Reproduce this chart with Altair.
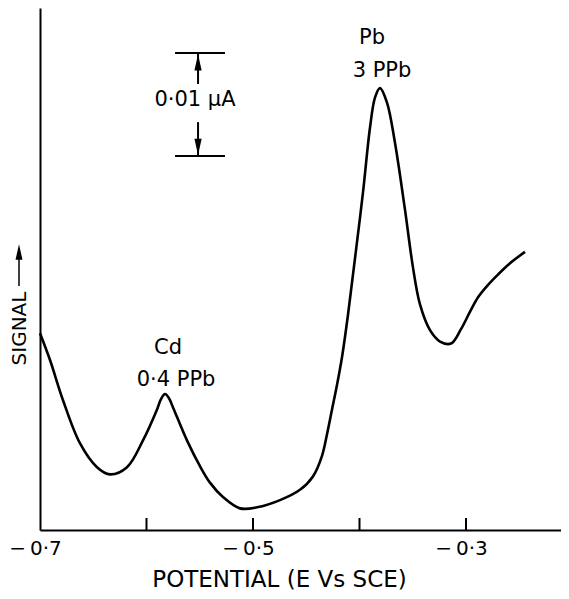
import altair as alt
import pandas as pd

# Stripping voltammogram (potential in V vs SCE, signal in nA)
potential = [-0.7000, -0.6906, -0.6784, -0.6624, -0.6465, -0.6343, -0.6183, -0.6033,
             -0.5901, -0.5864, -0.5826, -0.5789, -0.5751, -0.5620, -0.5498, -0.5404,
             -0.5282, -0.5122,
             -0.4962, -0.4746, -0.4559, -0.4437, -0.4352, -0.4305, -0.4258, -0.4211,
             -0.4164, -0.4108, -0.4042, -0.3967, -0.3901, -0.3854, -0.3808, -0.3742,
             -0.3667, -0.3573, -0.3498, -0.3432, -0.3338, -0.3244, -0.3141, -0.3047,
             -0.2962, -0.2887, -0.2793, -0.2700, -0.2587, -0.2446]
signal = [19.1, 16.5, 12.6, 8.4, 6.1, 5.4, 6.1, 8.7,
          11.7, 12.7, 13.2, 12.8, 11.9, 8.7, 6.2, 4.6,
          3.2, 2.1,
          2.2, 2.9, 3.9, 5.2, 7.2, 9.3, 11.7, 14.1,
          16.8, 20.9, 26.4, 32.8, 39.1, 42.0, 42.9, 41.5,
          37.6, 31.1, 25.5, 21.9, 19.4, 18.3, 18.1, 19.5,
          21.2, 22.6, 23.8, 24.8, 25.9, 27.0]

x_domain = [-0.7, -0.2108]
y_domain = [0, 50.68]

tick_values = [-0.6, -0.5, -0.4, -0.3]
label_values = [-0.7, -0.5, -0.3]
label_texts = ["−\u20090·7", "−\u20090·5", "−\u20090·3"]

ann_text = ["Cd", "0·4 PPb", "Pb", "3 PPb", "0·01 μA"]
ann_x = [-0.5798, -0.5723, -0.3883, -0.3789, -0.5545]
ann_y = [17.67, 14.56, 47.77, 44.56, 41.75]

# scale bar: 0.01 uA = 10 nA
bar_x1, bar_x2 = -0.5732, -0.5263
bar_y = [46.31, 36.31]
shaft_x = -0.5516
shaft_y1 = [46.31, 39.6]
shaft_y2 = [43.3, 36.31]
head_y = [45.4, 37.2]
UP = "M0,-1L0.45,1L-0.45,1Z"
DOWN = "M0,1L0.45,-1L-0.45,-1Z"
head_shape = [UP, DOWN]

FONT = "DejaVu Sans"

curve_df = pd.DataFrame({"E": potential, "S": signal})
tick_df = pd.DataFrame({"E": tick_values})
ann_df = pd.DataFrame({"t": ann_text, "E": ann_x, "S": ann_y})
bar_df = pd.DataFrame({"E": [bar_x1] * 2, "E2": [bar_x2] * 2, "S": bar_y})
shaft_df = pd.DataFrame({"E": [shaft_x] * 2, "S": shaft_y1, "S2": shaft_y2})
head_df = pd.DataFrame({"E": [shaft_x] * 2, "S": head_y, "shape": head_shape})
one_df = pd.DataFrame({"shape": [UP]})

label_expr = " : ".join(
    f"datum.value > {v - 0.005} && datum.value < {v + 0.005} ? '{t}'"
    for v, t in zip(label_values, label_texts)
) + " : ''"

xscale = alt.Scale(domain=x_domain, nice=False, zero=False)
yscale = alt.Scale(domain=y_domain, nice=False, zero=False)

x_axis = alt.Axis(
    values=label_values, labelExpr=label_expr, ticks=False, grid=False,
    domainColor="black", domainWidth=2, labelFont=FONT, labelFontSize=20,
    labelColor="black", labelPadding=8, labelOffset=-5, labelFlush=False,
    labelOverlap=False,
    title="POTENTIAL (E Vs SCE)", titleFont=FONT, titleFontSize=23,
    titleFontWeight="normal", titleColor="black", titlePadding=10, titleX=239,
)
y_axis = alt.Axis(
    labels=False, ticks=False, grid=False, domainColor="black", domainWidth=2,
    title="SIGNAL", titleFont=FONT, titleFontSize=20, titleFontWeight="normal",
    titleColor="black", titleAngle=270, titleX=-21, titleY=320, titleAlign="center",
    titleBaseline="middle",
)

curve = alt.Chart(curve_df).mark_line(
    color="black", strokeWidth=2.6, interpolate="catmull-rom"
).encode(
    x=alt.X("E:Q", scale=xscale, axis=x_axis),
    y=alt.Y("S:Q", scale=yscale, axis=y_axis),
)

ticks = alt.Chart(tick_df).mark_rule(color="black", strokeWidth=2).encode(
    x=alt.X("E:Q", scale=xscale),
    y=alt.value(522), y2=alt.value(510),
)

texts = alt.Chart(ann_df).mark_text(
    font=FONT, fontSize=21, color="black", align="center", baseline="middle"
).encode(
    x=alt.X("E:Q", scale=xscale), y=alt.Y("S:Q", scale=yscale), text="t:N",
)

bars = alt.Chart(bar_df).mark_rule(color="black", strokeWidth=2).encode(
    x=alt.X("E:Q", scale=xscale), x2="E2:Q", y=alt.Y("S:Q", scale=yscale),
)

shafts = alt.Chart(shaft_df).mark_rule(color="black", strokeWidth=2).encode(
    x=alt.X("E:Q", scale=xscale), y=alt.Y("S:Q", scale=yscale), y2="S2:Q",
)

heads = alt.Chart(head_df).mark_point(
    filled=True, color="black", opacity=1, size=260
).encode(
    x=alt.X("E:Q", scale=xscale), y=alt.Y("S:Q", scale=yscale),
    shape=alt.Shape("shape:N", scale=None),
)

# arrow next to the y-axis title
sig_line = alt.Chart(one_df).mark_rule(color="black", strokeWidth=1.5).encode(
    x=alt.value(-21), y=alt.value(244), y2=alt.value(278),
)
sig_head = alt.Chart(one_df).mark_point(
    filled=True, color="black", opacity=1, size=240
).encode(
    x=alt.value(-21), y=alt.value(244), shape=alt.Shape("shape:N", scale=None),
)

chart = alt.layer(curve, ticks, bars, shafts, heads, texts, sig_line, sig_head).properties(
    width=521, height=522,
    autosize=alt.AutoSizeParams(type="none"),
    padding={"left": 32, "top": 0, "right": 0, "bottom": 62},
    background="white",
).configure_view(stroke=None)

chart.save("out.html", embed_options={"renderer": "svg", "actions": False})
